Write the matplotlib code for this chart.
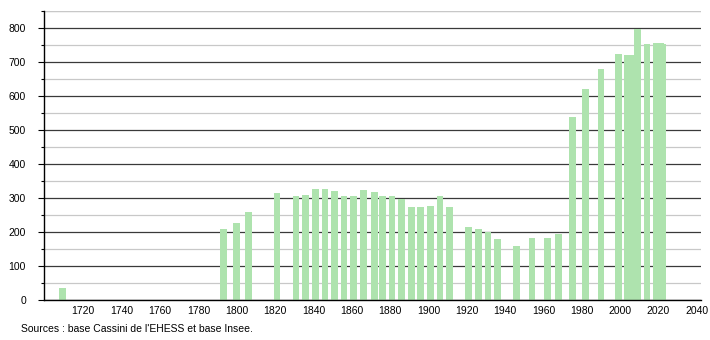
import matplotlib
matplotlib.use("Agg")
import matplotlib.pyplot as plt
from matplotlib.ticker import MultipleLocator

plt.rcParams['font.family'] = ['Liberation Sans', 'DejaVu Sans']

years = [1709, 1793, 1800, 1806, 1821, 1831, 1836, 1841, 1846, 1851, 1856, 1861,
         1866, 1872, 1876, 1881, 1886, 1891, 1896, 1901, 1906, 1911, 1921, 1926,
         1931, 1936, 1946, 1954, 1962, 1968, 1975, 1982, 1990, 1999, 2004, 2006,
         2009, 2014, 2019, 2020, 2021, 2022]
population = [36, 209, 227, 259, 316, 307, 310, 326, 326, 320, 307, 307,
              324, 318, 307, 307, 297, 274, 274, 276, 307, 274, 216, 209,
              201, 179, 159, 182, 182, 194, 538, 621, 679, 723, 721, 721,
              797, 753, 755, 756, 755, 753]
xticks = list(range(1720, 2041, 20))
yticks = list(range(0, 801, 100))
source = "Sources : base Cassini de l'EHESS et base Insee."

fig = plt.figure(figsize=(7.1, 3.4), dpi=100)
ax = fig.add_axes([44 / 710, 1 - 300 / 340, (700.7 - 44) / 710, 289 / 340])

ax.set_xlim(1699.5, 2042)
ax.set_ylim(0, 850)

ax.yaxis.set_major_locator(MultipleLocator(100))
ax.yaxis.set_minor_locator(MultipleLocator(50))
ax.set_yticks(yticks)
ax.set_xticks(xticks)
ax.set_xticklabels([str(t) for t in xticks])

ax.grid(axis='y', which='major', color='#3a3a3a', linewidth=0.9, zorder=0)
ax.grid(axis='y', which='minor', color='#c8c8c8', linewidth=0.9, zorder=0)
ax.axhline(850, color='#c8c8c8', linewidth=0.9, zorder=0)
ax.set_axisbelow(True)

ax.bar(years, population, width=3.5, color='#aee3ae', edgecolor='none', zorder=2)

for s in ['top', 'right']:
    ax.spines[s].set_visible(False)
ax.spines['left'].set_color('black')
ax.spines['bottom'].set_color('black')
ax.spines['left'].set_linewidth(1.0)
ax.spines['bottom'].set_linewidth(1.0)

ax.tick_params(axis='y', which='major', length=4, width=0.8, pad=9, labelsize=7.5, colors='black')
ax.tick_params(axis='y', which='minor', length=2.5, width=0.8)
ax.tick_params(axis='x', which='major', length=0, pad=4, labelsize=7.5)

fig.text(21 / 710, 1 - 329 / 340, source, fontsize=7.5, va='center', ha='left')

fig.savefig("out.png", dpi=100)
